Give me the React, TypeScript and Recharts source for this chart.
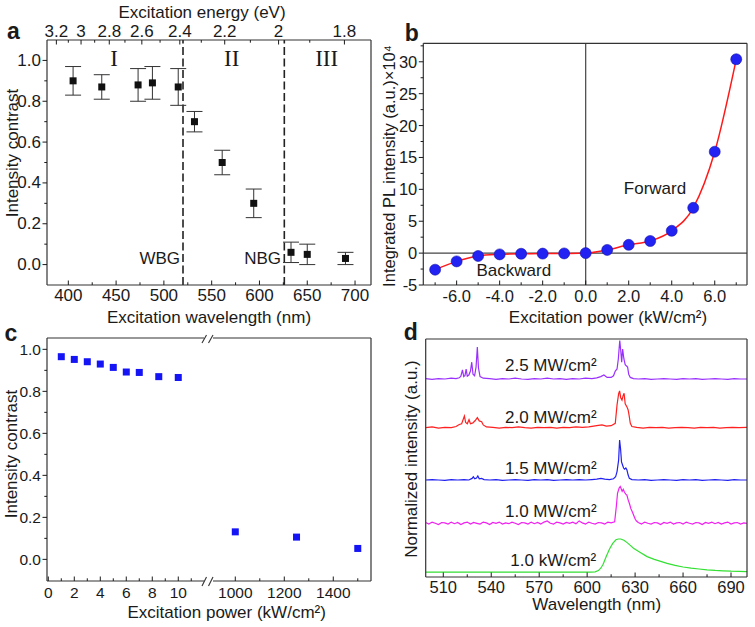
import React from "react";
import { ComposedChart, LineChart, Line, Scatter, XAxis, YAxis, ErrorBar, ReferenceLine } from "recharts";

// ---- panel a: intensity contrast vs excitation wavelength
const aWavelength = [405, 435, 473, 488, 515, 532, 561, 594, 633, 650, 690];
const aContrast = [0.9, 0.87, 0.88, 0.89, 0.87, 0.7, 0.5, 0.3, 0.06, 0.05, 0.03];
const aError = [0.07, 0.06, 0.08, 0.08, 0.09, 0.05, 0.06, 0.07, 0.05, 0.05, 0.03];
const aWlMajor = [400, 450, 500, 550, 600, 650, 700];
const aWlMinor = [425, 475, 525, 575, 625, 675];
const aEnergyMajor = [3.2, 3, 2.8, 2.6, 2.4, 2.2, 2, 1.8];
const aEnergyMinor = [3.1, 2.9, 2.7, 2.5, 2.3, 2.1, 1.9];
const aYMajor = [0, 0.2, 0.4, 0.6, 0.8, 1.0];
const aYMinor = [0.1, 0.3, 0.5, 0.7, 0.9];
const aBoundaries = [520, 626];

// ---- panel b: integrated PL vs signed excitation power
const bPower = [-7, -6, -5, -4, -3, -2, -1, 0, 1, 2, 3, 4, 5, 6, 7];
const bIntensity = [-2.6, -1.3, -0.45, -0.2, -0.1, -0.08, -0.05, 0, 0.5, 1.3, 1.9, 3.5, 7.1, 15.9, 30.4];
const bXMajor = [-6, -4, -2, 0, 2, 4, 6];
const bXMinor = [-7, -5, -3, -1, 1, 3, 5, 7];
const bYMajor = [-5, 0, 5, 10, 15, 20, 25, 30];
const bYMinor = [-2.5, 2.5, 7.5, 12.5, 17.5, 22.5, 27.5, 32.5];

// ---- panel c: contrast vs excitation power (broken axis)
const cLowPower = [1, 2, 3, 4, 5, 6, 7, 8.5, 10];
const cLowContrast = [0.965, 0.952, 0.941, 0.93, 0.914, 0.892, 0.89, 0.87, 0.866];
const cHighPower = [1000, 1250, 1500];
const cHighContrast = [0.131, 0.106, 0.052];
const cLowMajor = [0, 2, 4, 6, 8, 10];
const cLowMinor = [1, 3, 5, 7, 9, 11];
const cHighMajor = [1000, 1200, 1400];
const cHighMinor = [1100, 1300, 1500];
const cYMajor = [0, 0.2, 0.4, 0.6, 0.8, 1.0];
const cYMinor = [0.1, 0.3, 0.5, 0.7, 0.9];

// ---- panel d: normalized spectra [wavelength nm, intensity]
const spec25: [number, number][] = [
  [499, 0.01], [503, -0.01], [507, 0.01], [511, 0], [515, 0.02], [518, 0.01], [520, 0.03], [521, 0.07], [522, 0.23],
  [522.8, 0.06], [523.6, 0.09], [524.3, 0.25], [525, 0.07], [526, 0.1], [527, 0.2], [527.8, 0.42], [528.6, 0.12],
  [529.6, 0.08], [530.5, 0.3], [531.3, 0.8], [532, 0.28], [533, 0.06], [535, 0.02], [539, 0.01], [543, -0.01],
  [547, 0.01], [551, 0], [555, 0.02], [559, 0], [563, -0.01], [567, 0.01], [571, 0], [575, 0.02], [579, 0],
  [583, 0.01], [587, -0.01], [591, 0.01], [595, 0], [599, 0.02], [603, 0.01], [606, 0.03], [608.5, 0.06],
  [610.5, 0.1], [612.5, 0.04], [615, 0.04], [616.5, 0.08], [617.6, 0.2], [618.7, 0.25], [619.5, 0.5], [620.4, 0.96],
  [621, 0.72], [621.6, 0.42], [622.2, 0.75], [623, 0.5], [623.8, 0.36], [624.5, 0.33], [625.3, 0.3], [626, 0.12],
  [627, 0.04], [629, 0.01], [632, 0], [636, 0.01], [640, -0.01], [644, 0], [648, 0.01], [652, 0], [656, -0.01],
  [660, 0.01], [664, 0], [668, 0.01], [672, -0.01], [676, 0], [680, 0.01], [684, 0], [688, -0.01], [692, 0.01],
  [696, 0], [700, 0],
];
const spec20: [number, number][] = [
  [499, 0], [503, 0.02], [507, -0.01], [511, 0.01], [515, 0], [518, 0.03], [520, 0.08], [521.5, 0.1], [523.2, 0.29],
  [524, 0.13], [525, 0.1], [526.1, 0.2], [527, 0.1], [528.5, 0.12], [530, 0.18], [531.3, 0.25], [532.5, 0.17],
  [534, 0.15], [535, 0.07], [537, 0.02], [541, 0.01], [545, -0.01], [549, 0.01], [553, 0], [557, 0.02], [561, 0],
  [565, -0.01], [569, 0.01], [573, 0], [577, 0.01], [581, -0.01], [585, 0.01], [589, 0], [593, 0.02], [597, 0.01],
  [601, 0.02], [604, 0.04], [607, 0.06], [609.3, 0.07], [612, 0.04], [615, 0.05], [617.6, 0.11], [618.7, 0.57],
  [619.7, 0.85], [620.3, 0.92], [621, 0.75], [621.8, 0.69], [622.5, 0.8], [623.1, 0.86], [623.8, 0.6], [624.9, 0.52],
  [625.6, 0.45], [626.2, 0.32], [627, 0.11], [628, 0.03], [631, 0.01], [635, -0.01], [639, 0.01], [643, 0],
  [647, 0.01], [651, -0.01], [655, 0], [659, 0.01], [663, 0], [667, -0.01], [671, 0.01], [675, 0], [679, 0.01],
  [683, -0.01], [687, 0], [691, 0.01], [695, 0], [700, 0.01],
];
const spec15: [number, number][] = [
  [499, 0], [503, 0.01], [507, 0], [511, -0.01], [515, 0.01], [519, 0], [523, 0.01], [526, 0], [528, 0.04],
  [528.8, 0.08], [529.7, 0.03], [530.8, 0.05], [531.6, 0.1], [532.5, 0.03], [534, 0.04], [535.5, 0.01], [539, 0],
  [543, 0.01], [547, -0.01], [551, 0], [555, 0.01], [559, 0], [563, -0.01], [567, 0.01], [571, 0], [575, 0.01],
  [579, -0.01], [583, 0], [587, 0.01], [591, 0], [595, 0.01], [599, 0], [603, 0.01], [606, 0.02], [608.6, 0.04],
  [611, 0.02], [614, 0.01], [616.5, 0.03], [617.8, 0.08], [618.7, 0.21], [619.7, 0.5], [620.3, 1.0], [620.9, 0.78],
  [621.5, 0.45], [622.2, 0.37], [622.8, 0.3], [623.4, 0.27], [624.2, 0.3], [624.9, 0.25], [625.6, 0.13],
  [626.4, 0.04], [628, 0.01], [632, 0], [636, 0.01], [640, -0.01], [644, 0], [648, 0.01], [652, 0], [656, -0.01],
  [660, 0.01], [664, 0], [668, 0.01], [672, -0.01], [676, 0], [680, 0.01], [684, 0], [688, -0.01], [692, 0.01],
  [696, 0], [700, 0],
];
const spec10M: [number, number][] = [
  [499, 0.02], [501, -0.02], [503, 0.03], [505, 0], [507, -0.03], [509, 0.02], [511, 0.01], [513, -0.02], [515, 0.03],
  [517, -0.01], [519, 0.02], [521, -0.03], [523, 0.01], [525, 0.03], [527, -0.02], [529, 0.02], [531, 0], [533, -0.02],
  [535, 0.03], [537, 0.01], [539, -0.03], [541, 0.02], [543, 0], [545, 0.03], [547, -0.02], [549, 0.01], [551, -0.01],
  [553, 0.03], [555, 0], [557, -0.03], [559, 0.02], [561, 0.01], [563, -0.02], [565, 0.03], [567, -0.01], [569, 0.02],
  [571, -0.02], [573, 0.03], [575, 0.06], [577, 0], [579, -0.02], [581, 0.03], [583, 0.01], [585, -0.02], [587, 0.02],
  [589, 0], [591, 0.03], [593, -0.01], [595, 0.06], [597, 0.01], [599, -0.02], [601, 0.03], [603, 0], [605, -0.02],
  [607, 0.02], [609, 0.01], [611, -0.02], [613, 0.03], [615, 0.01], [617.2, 0.04], [618.2, 0.4], [619, 0.75],
  [620, 0.88], [620.7, 0.92], [621.4, 0.85], [621.9, 0.8], [622.6, 0.85], [623.4, 0.77], [624.2, 0.73], [624.9, 0.7],
  [625.7, 0.58], [626.4, 0.5], [627.4, 0.36], [628.3, 0.28], [629.1, 0.2], [630.1, 0.1], [631, 0.05], [632, 0.02],
  [634, -0.02], [636, 0.03], [638, 0], [640, -0.02], [642, 0.02], [644, 0.01], [646, -0.03], [648, 0.02], [650, 0],
  [652, 0.03], [654, -0.02], [656, 0.01], [658, 0.02], [660, -0.02], [662, 0.03], [664, 0], [666, -0.02], [668, 0.02],
  [670, 0.01], [672, -0.03], [674, 0.02], [676, 0], [678, 0.03], [680, -0.01], [682, 0.02], [684, -0.02], [686, 0.01],
  [688, 0.03], [690, -0.02], [692, 0.01], [694, 0.02], [696, -0.02], [698, 0.01], [700, 0],
];
const spec10k: [number, number][] = [
  [499, 0], [520, 0], [540, 0], [560, 0], [580, 0], [595, 0], [602, 0.003], [605, 0.01], [607, 0.04], [608.5, 0.1],
  [610, 0.2], [612, 0.4], [614, 0.58], [616, 0.72], [618, 0.81], [619.5, 0.83], [621, 0.83], [623, 0.8], [625, 0.74],
  [627, 0.67], [629, 0.6], [633, 0.5], [637.5, 0.39], [642, 0.32], [646, 0.27], [650, 0.22], [655, 0.17], [660, 0.13],
  [665, 0.1], [670, 0.08], [675, 0.06], [680, 0.045], [685, 0.035], [690, 0.025], [695, 0.02], [700, 0.015],
];
const dLabels = ["1.0 kW/cm²", "1.0 MW/cm²", "1.5 MW/cm²", "2.0 MW/cm²", "2.5 MW/cm²"];
const dSpectra = [spec10k, spec10M, spec15, spec20, spec25];
const dOffsets = [0, 1.2225, 2.305, 3.6125, 4.83];
const dColors = ["#33e033", "#f020f0", "#2020f0", "#ff2020", "#9a30ff"];
const dXMajor = [510, 540, 570, 600, 630, 660, 690];
const dXMinor = [525, 555, 585, 615, 645, 675];

const INK = "#1a1a1a";
const FRAME = { stroke: "#333", strokeWidth: 1.2 };
const FONT = "'Liberation Sans', Arial, sans-serif";

type TickOpts = {
  side: "bottom" | "top" | "left";
  labels: number[];
  fmt: (v: number) => string;
  size: number;
  inward: boolean;
  gap: number;
  len?: number;
};

// tickSize/tickMargin are 0, so p.x / p.y sit right on the axis line
const makeTick = (o: TickOpts) => (p: any) => {
  const v: number = p.payload.value;
  const major = o.labels.some((m) => Math.abs(m - v) < 1e-6);
  const len = (o.len ?? 4.5) * (major ? 1 : 0.6);
  const out = o.inward ? -1 : 1;
  if (o.side === "left") {
    return (
      <g key={`l${v}`}>
        <line x1={p.x} x2={p.x - out * len} y1={p.y} y2={p.y} stroke={INK} strokeWidth={1} />
        {major && (
          <text x={p.x - o.gap} y={p.y} textAnchor="end" dominantBaseline="central" fontSize={o.size} fontFamily={FONT} fill={INK}>
            {o.fmt(v)}
          </text>
        )}
      </g>
    );
  }
  const s = o.side === "bottom" ? 1 : -1;
  return (
    <g key={`${o.side}${v}`}>
      <line x1={p.x} x2={p.x} y1={p.y} y2={p.y + s * out * len} stroke={INK} strokeWidth={1} />
      {major && (
        <text x={p.x} y={p.y + s * o.gap} textAnchor="middle" dominantBaseline="central" fontSize={o.size} fontFamily={FONT} fill={INK}>
          {o.fmt(v)}
        </text>
      )}
    </g>
  );
};

const axisBase = { type: "number" as const, allowDataOverflow: true, tickSize: 0, tickMargin: 0, tickLine: false, interval: 0 as const, axisLine: FRAME };

const square = (size: number, fill: string) => (p: any) => (
  <rect x={p.cx - size / 2} y={p.cy - size / 2} width={size} height={size} fill={fill} />
);

function Txt({ x, y, children, size = 17, bold = false, rotate = false, anchor = "middle", family = FONT }: {
  x: number; y: number; children: React.ReactNode; size?: number; bold?: boolean; rotate?: boolean; anchor?: "middle" | "end"; family?: string;
}) {
  const tx = anchor === "end" ? "-100%" : "-50%";
  return (
    <div
      style={{
        position: "absolute", left: x, top: y, fontSize: size, fontWeight: bold ? 700 : 400, fontFamily: family,
        lineHeight: 1, whiteSpace: "nowrap", color: INK,
        transform: `translate(${tx}, -50%)${rotate ? " rotate(-90deg)" : ""}`,
        transformOrigin: anchor === "end" ? "100% 50%" : "50% 50%",
      }}
    >
      {children}
    </div>
  );
}

const fmt1 = (v: number) => v.toFixed(1);
const fmt0 = (v: number) => String(v);

function PanelA() {
  const data = aWavelength.map((x, i) => ({ x, y: aContrast[i], err: aError[i] }));
  const energyMajorPos = aEnergyMajor.map((e) => 1240 / e);
  const energyTicks = [...aEnergyMajor, ...aEnergyMinor].map((e) => 1240 / e);
  const dom: [number, number] = [377.7, 716.7];
  return (
    <ComposedChart width={380} height={320} data={data} margin={{ top: 39, right: 8, bottom: 34, left: 46 }}>
      <XAxis {...axisBase} dataKey="x" domain={dom} height={1} ticks={[...aWlMajor, ...aWlMinor]}
        tick={makeTick({ side: "bottom", labels: aWlMajor, fmt: fmt0, size: 17, inward: true, gap: 10 })} />
      <XAxis {...axisBase} xAxisId="top" dataKey="x" orientation="top" domain={dom} height={1} ticks={energyTicks}
        tick={makeTick({ side: "top", labels: energyMajorPos, fmt: (v) => String(Number((1240 / v).toFixed(1))), size: 17, inward: true, gap: 8.5 })} />
      <YAxis {...axisBase} domain={[-0.1, 1.1]} width={1} ticks={[...aYMajor, ...aYMinor]}
        tick={makeTick({ side: "left", labels: aYMajor, fmt: fmt1, size: 17, inward: false, gap: 6 })} />
      <YAxis {...axisBase} yAxisId="r" orientation="right" domain={[-0.1, 1.1]} width={1} tick={false} />
      {aBoundaries.map((b) => (
        <ReferenceLine key={b} x={b} stroke="#222" strokeWidth={1.6} strokeDasharray="8 3.5" />
      ))}
      <Scatter dataKey="y" shape={square(7, "#111")} isAnimationActive={false}>
        <ErrorBar dataKey="err" direction="y" width={8} stroke="#333" strokeWidth={1} />
      </Scatter>
    </ComposedChart>
  );
}

function PanelB() {
  const data = bPower.map((x, i) => ({ x, y: bIntensity[i] }));
  const dom: [number, number] = [-7.55, 7.5];
  const ydom: [number, number] = [-5, 32.9];
  return (
    <ComposedChart width={380} height={320} data={data} margin={{ top: 42.3, right: 7, bottom: 34, left: 47.3 }}>
      <XAxis {...axisBase} dataKey="x" domain={dom} height={1} ticks={[...bXMajor, ...bXMinor]}
        tick={makeTick({ side: "bottom", labels: bXMajor, fmt: fmt1, size: 16.5, inward: true, gap: 11 })} />
      <XAxis {...axisBase} xAxisId="top" dataKey="x" orientation="top" domain={dom} height={1} tick={false} />
      <YAxis {...axisBase} domain={ydom} width={1} ticks={[...bYMajor, ...bYMinor]}
        tick={makeTick({ side: "left", labels: bYMajor, fmt: fmt0, size: 16.5, inward: false, gap: 6 })} />
      <YAxis {...axisBase} yAxisId="r" orientation="right" domain={ydom} width={1} tick={false} />
      <ReferenceLine x={0} stroke="#444" strokeWidth={1.2} />
      <ReferenceLine y={0} stroke="#444" strokeWidth={1.2} />
      <Line dataKey="y" type="monotone" stroke="#ff1a1a" strokeWidth={1.5} dot={false} isAnimationActive={false} />
      <Scatter dataKey="y" isAnimationActive={false}
        shape={(p: any) => <circle cx={p.cx} cy={p.cy} r={5.5} fill="#2222f2" stroke="#1515b0" strokeWidth={0.6} />} />
    </ComposedChart>
  );
}

function PanelCLow() {
  const data = cLowPower.map((x, i) => ({ x, y: cLowContrast[i] }));
  const ydom: [number, number] = [-0.103, 1.054];
  return (
    <ComposedChart width={210} height={307} data={data} margin={{ top: 17, right: 6, bottom: 45, left: 46 }}>
      <XAxis {...axisBase} dataKey="x" domain={[-0.1, 11.98]} height={1} ticks={[...cLowMajor, ...cLowMinor]}
        tick={makeTick({ side: "bottom", labels: cLowMajor, fmt: fmt0, size: 15.5, inward: true, gap: 11.5 })} />
      <XAxis {...axisBase} xAxisId="top" dataKey="x" orientation="top" domain={[-0.1, 11.98]} height={1} tick={false} />
      <YAxis {...axisBase} domain={ydom} width={1} ticks={[...cYMajor, ...cYMinor]}
        tick={makeTick({ side: "left", labels: cYMajor, fmt: fmt1, size: 15.5, inward: false, gap: 6 })} />
      <Scatter dataKey="y" shape={square(7, "#1414f5")} isAnimationActive={false} />
    </ComposedChart>
  );
}

function PanelCHigh() {
  const data = cHighPower.map((x, i) => ({ x, y: cHighContrast[i] }));
  const ydom: [number, number] = [-0.103, 1.054];
  return (
    <ComposedChart width={175} height={307} data={data} margin={{ top: 17, right: 8, bottom: 45, left: 8 }}>
      <XAxis {...axisBase} dataKey="x" domain={[909, 1554]} height={1} ticks={[...cHighMajor, ...cHighMinor]}
        tick={makeTick({ side: "bottom", labels: cHighMajor, fmt: fmt0, size: 15.5, inward: true, gap: 11.5 })} />
      <XAxis {...axisBase} xAxisId="top" dataKey="x" orientation="top" domain={[909, 1554]} height={1} tick={false} />
      <YAxis {...axisBase} orientation="right" domain={ydom} width={1} tick={false} />
      <Scatter dataKey="y" shape={square(7, "#1414f5")} isAnimationActive={false} />
    </ComposedChart>
  );
}

function PanelD() {
  const ydom: [number, number] = [-0.12, 5.83];
  const xdom: [number, number] = [499, 700];
  return (
    <LineChart width={380} height={307} margin={{ top: 18, right: 7, bottom: 49, left: 49.7 }}>
      <XAxis {...axisBase} dataKey="x" domain={xdom} height={1} ticks={[...dXMajor, ...dXMinor]}
        tick={makeTick({ side: "bottom", labels: dXMajor, fmt: fmt0, size: 16.5, inward: true, gap: 10 })} />
      <XAxis {...axisBase} xAxisId="top" dataKey="x" orientation="top" domain={xdom} height={1} tick={false} />
      <YAxis {...axisBase} domain={ydom} width={1} tick={false} />
      <YAxis {...axisBase} yAxisId="r" orientation="right" domain={ydom} width={1} tick={false} />
      {dSpectra.map((spec, k) => (
        <Line key={dLabels[k]} data={spec.map(([x, v]) => ({ x, y: v + dOffsets[k] }))} dataKey="y" type="linear"
          stroke={dColors[k]} strokeWidth={1.2} dot={false} isAnimationActive={false} />
      ))}
    </LineChart>
  );
}

export default function App() {
  const abs = (left: number, top: number): React.CSSProperties => ({ position: "absolute", left, top });
  return (
    <div style={{ position: "absolute", left: 0, top: 0, width: 755, height: 627, background: "#fff", fontFamily: FONT, overflow: "hidden" }}>
      <div style={abs(0, 0)}><PanelA /></div>
      <div style={abs(375, 0)}><PanelB /></div>
      <div style={abs(0, 320)}><PanelCLow /></div>
      <div style={abs(205, 320)}><PanelCHigh /></div>
      <div style={abs(375, 320)}><PanelD /></div>

      <svg style={{ position: "absolute", left: 0, top: 0 }} width={755} height={627}>
        {[[343, 335], [586, 577]].map(([y1, y2]) => (
          <g key={y1} stroke="#333" strokeWidth={1.1}>
            <line x1={202} y1={y1} x2={206.5} y2={y2} />
            <line x1={208.5} y1={y1} x2={213} y2={y2} />
          </g>
        ))}
      </svg>

      {/* panel a */}
      <Txt x={13.5} y={31} size={23} bold>a</Txt>
      <Txt x={202} y={12}>Excitation energy (eV)</Txt>
      <Txt x={209} y={317}>Excitation wavelength (nm)</Txt>
      <Txt x={12} y={153} rotate>Intensity contrast</Txt>
      <Txt x={114} y={57.5} size={23} family="'Liberation Serif', 'Times New Roman', serif">I</Txt>
      <Txt x={231.7} y={57.5} size={23} family="'Liberation Serif', 'Times New Roman', serif">II</Txt>
      <Txt x={326.7} y={57.5} size={23} family="'Liberation Serif', 'Times New Roman', serif">III</Txt>
      <Txt x={180} y={258} anchor="end">WBG</Txt>
      <Txt x={281} y={258} anchor="end">NBG</Txt>

      {/* panel b */}
      <Txt x={411.7} y={32.5} size={23} bold>b</Txt>
      <Txt x={389} y={166} size={16.5} rotate>Integrated PL intensity (a.u.)×10⁴</Txt>
      <Txt x={608} y={317}>Excitation power (kW/cm²)</Txt>
      <Txt x={655} y={188}>Forward</Txt>
      <Txt x={513.8} y={270}>Backward</Txt>

      {/* panel c */}
      <Txt x={11} y={333} size={23} bold>c</Txt>
      <Txt x={11} y={454} rotate>Intensity contrast</Txt>
      <Txt x={226.7} y={612}>Excitation power (kW/cm²)</Txt>

      {/* panel d */}
      <Txt x={410.8} y={331.7} size={23} bold>d</Txt>
      <Txt x={410.5} y={459} rotate>Normalized intensity (a.u.)</Txt>
      <Txt x={596.7} y={604}>Wavelength (nm)</Txt>
      <Txt x={550.8} y={365}>{dLabels[4]}</Txt>
      <Txt x={550.8} y={416.5}>{dLabels[3]}</Txt>
      <Txt x={550.8} y={468}>{dLabels[2]}</Txt>
      <Txt x={550.8} y={511}>{dLabels[1]}</Txt>
      <Txt x={553.3} y={560}>{dLabels[0]}</Txt>
    </div>
  );
}
